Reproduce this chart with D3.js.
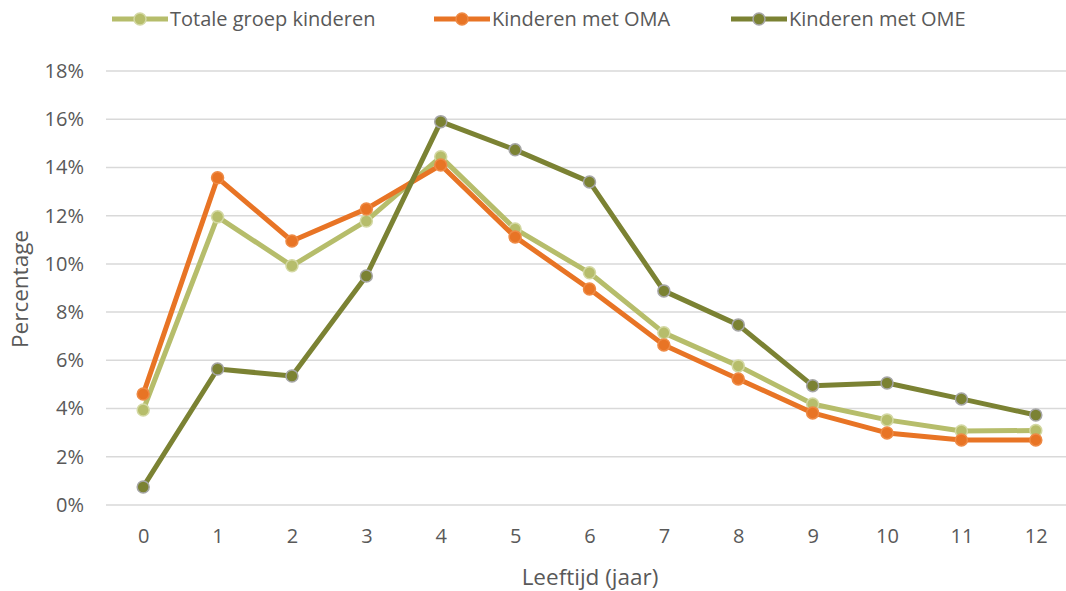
<!DOCTYPE html>
<html>
<head>
<meta charset="utf-8">
<script src="https://cdn.jsdelivr.net/npm/d3@7"></script>
<style>
  html, body { margin: 0; padding: 0; background: #fff; }
  svg text { font-family: "Open Sans", "Liberation Sans", sans-serif; fill: #595959; }
</style>
</head>
<body>
<div id="chart"></div>
<script>
const AGES = ["0","1","2","3","4","5","6","7","8","9","10","11","12"]
const Y_TICKS = [0, 2, 4, 6, 8, 10, 12, 14, 16, 18]

const TOTAAL = [3.94, 11.95, 9.92, 11.78, 14.44, 11.45, 9.63, 7.14, 5.77, 4.19, 3.53, 3.07, 3.09]
const OMA = [4.6, 13.57, 10.95, 12.28, 14.1, 11.12, 8.96, 6.64, 5.23, 3.82, 2.99, 2.70, 2.70]
const OME = [0.75, 5.64, 5.35, 9.5, 15.9, 14.73, 13.4, 8.88, 7.47, 4.95, 5.06, 4.4, 3.73]

const SERIES = [
    {name: "Totale groep kinderen", values: TOTAAL, color: "#b6bd6b", stroke: "#d3d8a3"},
    {name: "Kinderen met OMA", values: OMA, color: "#e87425", stroke: "#ee8a45"},
    {name: "Kinderen met OME", values: OME, color: "#7b8233", stroke: "#a6a6a6"}
]

const W = 1066, H = 591;
let svg = d3.select("#chart").append("svg")
    .attr("width", W).attr("height", H);

let x = d3.scalePoint()
    .domain(AGES)
    .range([106, 1073])
    .padding(0.5);

let y = d3.scaleLinear()
    .domain([0, 18])
    .range([505, 71]);

// gridlines
svg.append("g")
    .selectAll("line")
    .data(Y_TICKS)
    .enter()
    .append("line")
        .attr("x1", 106).attr("x2", W)
        .attr("y1", d => y(d)).attr("y2", d => y(d))
        .attr("stroke", "#d9d9d9")
        .attr("stroke-width", 1.5);

// y axis labels
let yAxis = svg.append("g")
    .attr("transform", "translate(84,0)")
    .call(d3.axisLeft(y).tickValues(Y_TICKS).tickFormat(d => d + "%").tickSize(0).tickPadding(0));
yAxis.select(".domain").remove();
yAxis.selectAll("text").attr("font-size", 20).style("fill", "#595959");

// x axis labels
let xAxis = svg.append("g")
    .attr("transform", "translate(0,529)")
    .call(d3.axisBottom(x).tickSize(0).tickPadding(0));
xAxis.select(".domain").remove();
xAxis.selectAll("text").attr("font-size", 20).style("fill", "#595959");

// axis titles
svg.append("text")
    .attr("x", 590).attr("y", 585)
    .attr("text-anchor", "middle")
    .attr("font-size", 22.5)
    .text("Leeftijd (jaar)");

svg.append("text")
    .attr("transform", "translate(28,289) rotate(-90)")
    .attr("text-anchor", "middle")
    .attr("font-size", 22.5)
    .text("Percentage");

let line = d3.line()
    .x((d, i) => x(AGES[i]))
    .y(d => y(d));

SERIES.forEach(s => {
    let g = svg.append("g");
    g.append("path")
        .datum(s.values)
        .attr("d", line)
        .attr("fill", "none")
        .attr("stroke", s.color)
        .attr("stroke-width", 5)
        .attr("stroke-linejoin", "round");
    g.selectAll("circle")
        .data(s.values)
        .enter()
        .append("circle")
            .attr("cx", (d, i) => x(AGES[i]))
            .attr("cy", d => y(d))
            .attr("r", 6)
            .attr("fill", s.color)
            .attr("stroke", s.stroke)
            .attr("stroke-width", 1.5);
});

// legend
const LEGEND_X = [112, 434, 731];
SERIES.forEach((s, i) => {
    let g = svg.append("g").attr("transform", "translate(" + LEGEND_X[i] + ",19)");
    g.append("line")
        .attr("x1", 0).attr("x2", 56)
        .attr("stroke", s.color).attr("stroke-width", 5);
    g.append("circle")
        .attr("cx", 28).attr("r", 6)
        .attr("fill", s.color)
        .attr("stroke", s.stroke).attr("stroke-width", 1.5);
    g.append("text")
        .attr("x", 58).attr("y", 7)
        .attr("font-size", 20)
        .text(s.name);
});
</script>
</body>
</html>
